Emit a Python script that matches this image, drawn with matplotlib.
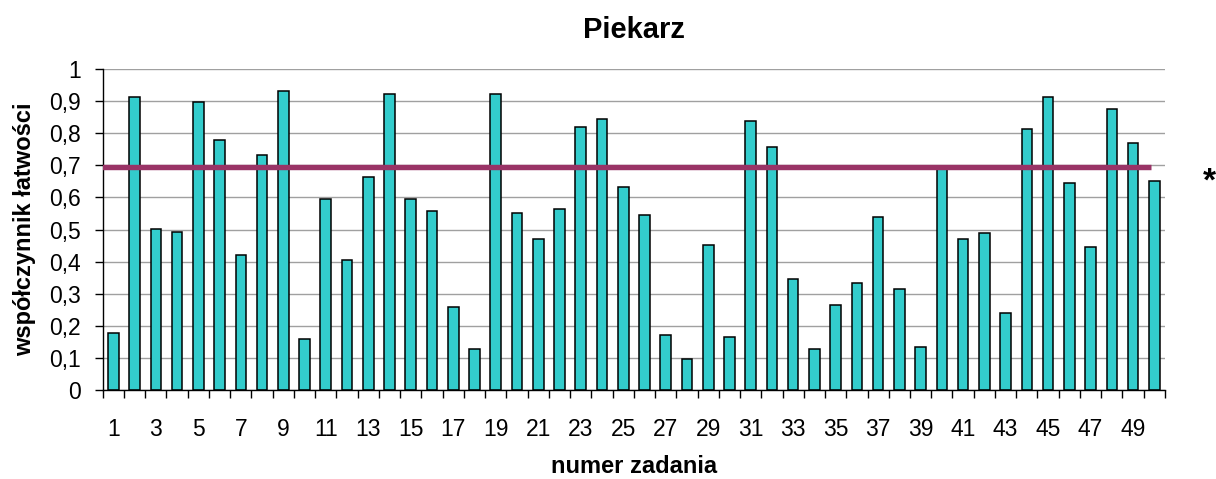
import matplotlib
matplotlib.use("Agg")
import matplotlib.pyplot as plt
from matplotlib.ticker import FixedLocator, NullFormatter
import numpy as np

plt.rcParams['font.family'] = ['Liberation Sans', 'DejaVu Sans']

# dane: numer zadania i wspolczynnik latwosci
zadania = list(range(1, 51))
latwosc = [0.178, 0.912, 0.502, 0.491, 0.895, 0.777, 0.421, 0.732, 0.932, 0.161,
           0.595, 0.404, 0.664, 0.920, 0.595, 0.558, 0.259, 0.129, 0.920, 0.552,
           0.471, 0.564, 0.820, 0.844, 0.633, 0.546, 0.172, 0.098, 0.452, 0.166,
           0.838, 0.757, 0.346, 0.129, 0.266, 0.334, 0.540, 0.315, 0.135, 0.690,
           0.471, 0.490, 0.241, 0.813, 0.913, 0.645, 0.446, 0.876, 0.770, 0.651]
srednia = 0.693
etykiety_x = [str(n) for n in zadania[::2]]
etykiety_y = ['0', '0,1', '0,2', '0,3', '0,4', '0,5', '0,6', '0,7', '0,8', '0,9', '1']

fig = plt.figure(figsize=(12.16, 4.79), dpi=100)
ax = fig.add_axes([0.0845, 0.1848, 0.958 - 0.0845, 0.8566 - 0.1848])

ax.bar(zadania, latwosc, width=0.5, color='#33CCCC', edgecolor='black',
       linewidth=1.1, zorder=2)
# linia sredniej
ax.plot([0.37, 49.83], [srednia, srednia], color='#993366', linewidth=3.9,
        solid_capstyle='butt', zorder=3)

ax.set_xlim(0.5, 50.5)
ax.set_ylim(0, 1)

ax.set_yticks(np.arange(0, 1.01, 0.1))
ax.set_yticklabels(etykiety_y)
ax.yaxis.grid(True, color='#a0a0a0', linewidth=1.0, zorder=0)
ax.set_axisbelow(True)

ax.set_xticks(zadania[::2])
ax.set_xticklabels(etykiety_x)
ax.xaxis.set_minor_locator(FixedLocator(np.arange(0.5, 51, 1)))
ax.xaxis.set_minor_formatter(NullFormatter())
ax.tick_params(axis='x', which='major', length=0, pad=20, labelsize=16.5)
ax.tick_params(axis='x', which='minor', length=5.8, width=1.0, color='black')
ax.tick_params(axis='y', length=5.5, width=1.0, pad=10, labelsize=16.5)

for s in ['top', 'right']:
    ax.spines[s].set_visible(False)
ax.spines['left'].set_linewidth(1.0)
ax.spines['bottom'].set_linewidth(1.0)

ax.set_title('Piekarz', fontsize=21, fontweight='bold', pad=22)
ax.set_ylabel('współczynnik łatwości', fontsize=17, fontweight='bold', labelpad=10)
# podpis osi x wstawiony recznie, zeby nie wychodzil poza obrazek
fig.text(0.0845 + (0.958 - 0.0845) / 2, 1 - 473 / 479, 'numer zadania',
         ha='center', va='baseline', fontsize=17, fontweight='bold')

fig.text(1203 / 1216, 1 - 182 / 479, '*', ha='left', va='center',
         fontsize=24, fontweight='bold')

fig.savefig('out.png', dpi=100)
